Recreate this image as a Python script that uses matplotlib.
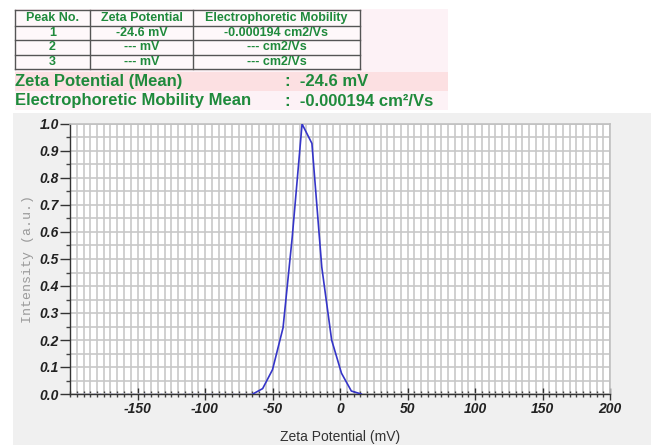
import matplotlib
matplotlib.use("Agg")
import matplotlib.pyplot as plt
from matplotlib.patches import Rectangle
from matplotlib.lines import Line2D
from matplotlib.ticker import MultipleLocator, FixedLocator

# ---------------- data ----------------
zeta_mv = [-64.6, -57.3, -50.0, -42.2, -35.4, -28.1, -20.8, -13.5, -6.2, 1.1, 8.4, 15.7]
intensity = [0.0, 0.02, 0.09, 0.245, 0.58, 1.0, 0.928, 0.47, 0.20, 0.077, 0.011, 0.0]
baseline_x = [-195, -64.6]
baseline_y = [0.0, 0.0]

table_header = ["Peak No.", "Zeta Potential", "Electrophoretic Mobility"]
table_rows = [["1", "-24.6 mV", "-0.000194 cm2/Vs"],
              ["2", "--- mV", "--- cm2/Vs"],
              ["3", "--- mV", "--- cm2/Vs"]]
summary_labels = ["Zeta Potential (Mean)", "Electrophoretic Mobility Mean"]
summary_values = [":  -24.6 mV", ":  -0.000194 cm\u00b2/Vs"]

x_ticks = [-150, -100, -50, 0, 50, 100, 150, 200]
y_ticks = [0.0, 0.1, 0.2, 0.3, 0.4, 0.5, 0.6, 0.7, 0.8, 0.9, 1.0]

# ---------------- figure ----------------
W, H = 651, 445
fig = plt.figure(figsize=(W / 100, H / 100), dpi=100)
fig.patch.set_facecolor("white")

def fx(px):
    return px / W

def fy(py):
    return 1 - py / H

GREEN = "#1f8a3c"

# gray background of plot panel
fig.patches.append(Rectangle((fx(13), 0), fx(W - 13), fy(113), transform=fig.transFigure,
                             facecolor="#f0f0f0", edgecolor="none", zorder=-5))
# pink info panel
fig.patches.append(Rectangle((fx(15), fy(110)), fx(448 - 15), (110 - 9) / H, transform=fig.transFigure,
                             facecolor="#fdf2f6", edgecolor="none", zorder=-5))
fig.patches.append(Rectangle((fx(15), fy(91)), fx(448 - 15), (91 - 72) / H, transform=fig.transFigure,
                             facecolor="#fce0e2", edgecolor="none", zorder=-5))
# table cells background
fig.patches.append(Rectangle((fx(15), fy(69)), fx(360 - 15), (69 - 10) / H, transform=fig.transFigure,
                             facecolor="#fef8fa", edgecolor="none", zorder=-5))

# table lines
col_x = [15, 90, 193, 360]
row_y = [10, 25.5, 40, 54.5, 69]
for yy in row_y:
    fig.add_artist(Line2D([fx(col_x[0]), fx(col_x[-1])], [fy(yy), fy(yy)], transform=fig.transFigure,
                          color="#555555", lw=1.0))
for xx in col_x:
    fig.add_artist(Line2D([fx(xx), fx(xx)], [fy(row_y[0]), fy(row_y[-1])], transform=fig.transFigure,
                          color="#555555", lw=1.0))

centers = [(col_x[i] + col_x[i + 1]) / 2 for i in range(3)]
for i, t in enumerate(table_header):
    fig.text(fx(centers[i]), fy((row_y[0] + row_y[1]) / 2), t, ha="center", va="center",
             fontsize=9, fontweight="bold", color=GREEN, family="Liberation Sans")
for r, row in enumerate(table_rows):
    yc = (row_y[r + 1] + row_y[r + 2]) / 2
    for i, t in enumerate(row):
        fig.text(fx(centers[i]), fy(yc), t, ha="center", va="center",
                 fontsize=9, fontweight="bold", color=GREEN, family="Liberation Sans")

for k, (lab, val) in enumerate(zip(summary_labels, summary_values)):
    yc = [81.5, 101][k]
    fig.text(fx(15), fy(yc), lab, ha="left", va="center", fontsize=12, fontweight="bold",
             color=GREEN, family="Liberation Sans")
    fig.text(fx(285), fy(yc), val, ha="left", va="center", fontsize=12, fontweight="bold",
             color=GREEN, family="Liberation Sans")

# ---------------- axes ----------------
ax = fig.add_axes([fx(70), fy(394), fx(610 - 70), (394 - 124) / H])
ax.set_zorder(5)
ax.set_facecolor("white")
ax.plot(zeta_mv, intensity, color="#3535c8", lw=1.2, zorder=3)
ax.plot(baseline_x, baseline_y, color="#5555dd", lw=1.0, ls=(0, (1, 3)), zorder=3)

ax.set_xlim(-200, 200)
ax.set_ylim(0, 1.0)
ax.xaxis.set_major_locator(FixedLocator(x_ticks))
ax.xaxis.set_minor_locator(MultipleLocator(5))
ax.yaxis.set_major_locator(FixedLocator(y_ticks))
ax.yaxis.set_minor_locator(MultipleLocator(0.05))
ax.set_xticklabels([str(v) for v in x_ticks])
ax.set_yticklabels([f"{v:.1f}" for v in y_ticks])

ax.grid(which="both", color="#c8c8c8", lw=1.2, zorder=0)
ax.set_axisbelow(True)

for s in ["top", "right"]:
    ax.spines[s].set_color("#c0c0c0")
    ax.spines[s].set_linewidth(1.2)
for s in ["left", "bottom"]:
    ax.spines[s].set_color("#333333")
    ax.spines[s].set_linewidth(1.0)

ax.tick_params(axis="x", which="major", direction="inout", length=9, width=1, color="#333333", pad=1)
ax.tick_params(axis="x", which="minor", direction="inout", length=5, width=1, color="#444444")
ax.tick_params(axis="y", which="major", direction="out", length=7, width=1, color="#333333", pad=1)
ax.tick_params(axis="y", which="minor", direction="out", length=3, width=1, color="#444444")

for lab in ax.get_xticklabels() + ax.get_yticklabels():
    lab.set_fontfamily("Liberation Sans")
    lab.set_fontweight("bold")
    lab.set_fontstyle("italic")
    lab.set_fontsize(10)
    lab.set_color("#222222")

fig.text(fx(340), fy(437), "Zeta Potential (mV)", ha="center", va="center", fontsize=10,
         family="Liberation Sans", color="#333333")
fig.text(fx(28), fy(259), "Intensity (a.u.)", ha="center", va="center", rotation=90,
         fontsize=9.5, family="Liberation Mono", color="#999999")

fig.savefig("out.png", dpi=100, facecolor=fig.get_facecolor())
